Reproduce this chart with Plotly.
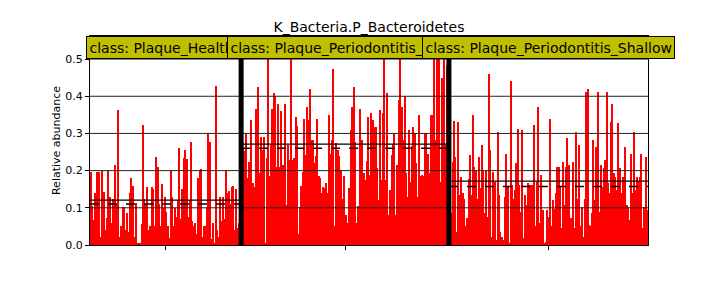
import numpy as np
import plotly.graph_objects as go

title = "K_Bacteria.P_Bacteroidetes"
class_names = ["Plaque_Healthy", "Plaque_Periodontitis_Deep", "Plaque_Periodontitis_Shallow"]

healthy = [0.197, 0.105, 0.067, 0.139, 0.197, 0.197, 0.197, 0.022, 0.2, 0.143, 0.04, 0.072, 0.2, 0.13,
           0.058, 0.125, 0.1, 0.215, 0.11, 0.363, 0.022, 0.05, 0.103, 0.103, 0.04, 0.085, 0.035, 0.139,
           0.18, 0.16, 0.022, 0.112, 0.005, 0.004, 0.005, 0.056, 0.324,
           0.125, 0.11, 0.157, 0.04, 0.05, 0.155, 0.15, 0.05, 0.237, 0.21, 0.11, 0.05, 0.165, 0.1,
           0.13, 0.09, 0.05, 0.02, 0.2, 0.13, 0.05, 0.1, 0.075, 0.12, 0.26, 0.07, 0.15, 0.233, 0.255,
           0.232, 0.075, 0.12, 0.276, 0.065, 0.05, 0.06, 0.03, 0.18, 0.2, 0.205, 0.022, 0.05, 0.05, 0.1,
           0.3, 0.276, 0.015, 0.06, 0.005, 0.427, 0.04, 0.022, 0.13, 0.065, 0.13, 0.07, 0.2, 0.14, 0.145,
           0.11, 0.157, 0.16, 0.04, 0.15, 0.045, 0.06, 0.12]

deep = [0.273, 0.26, 0.254, 0.3, 0.18, 0.224, 0.336, 0.166, 0.166, 0.157, 0.367, 0.426, 0.193, 0.29,
        0.255, 0.29, 0.004, 0.233, 0.6, 0.185, 0.27, 0.367, 0.41, 0.4, 0.21, 0.38, 0.21, 0.36, 0.215,
        0.21, 0.38, 0.107, 0.27, 0.228, 0.6, 0.228, 0.233, 0.345, 0.32, 0.03, 0.103, 0.16, 0.197, 0.34,
        0.242, 0.372, 0.336, 0.42, 0.282, 0.282, 0.22, 0.238, 0.338, 0.185, 0.18, 0.14, 0.157, 0.152,
        0.166, 0.14, 0.35, 0.246, 0.282, 0.473, 0.05, 0.273, 0.255, 0.238, 0.2, 0.125, 0.185, 0.05, 0.08,
        0.06, 0.152, 0.31, 0.372, 0.426, 0.278, 0.058, 0.105, 0.367, 0.193, 0.282, 0.193, 0.175, 0.226,
        0.345, 0.188, 0.354, 0.336, 0.318, 0.318, 0.206, 0.12, 0.363, 0.175, 0.354, 0.6, 0.175, 0.41,
        0.08, 0.148, 0.242, 0.272, 0.3, 0.08, 0.215, 0.39, 0.6, 0.372, 0.282, 0.4, 0.193, 0.13, 0.31,
        0.17, 0.265, 0.318, 0.3, 0.22, 0.13, 0.35, 0.185, 0.188, 0.185, 0.3, 0.3, 0.246, 0.193, 0.35,
        0.35, 0.6, 0.282, 0.58, 0.41, 0.6, 0.17, 0.45, 0.5, 0.27, 0.48, 0.55]

shallow = [0.107, 0.085, 0.224, 0.334, 0.237, 0.036, 0.33, 0.134, 0.184, 0.139, 0.125, 0.05, 0.072,
           0.177, 0.242, 0.134, 0.35, 0.21, 0.2, 0.125, 0.237, 0.152, 0.27, 0.2, 0.085, 0.2, 0.076,
           0.46, 0.255, 0.022, 0.197, 0.17, 0.013, 0.305, 0.134, 0.036, 0.022, 0.013, 0.13, 0.246,
           0.157, 0.005, 0.44, 0.161, 0.125, 0.148, 0.22, 0.313, 0.161, 0.09, 0.31, 0.018, 0.134,
           0.107, 0.166, 0.161, 0.107, 0.161, 0.323, 0.05, 0.17, 0.372, 0.058, 0.188, 0.094, 0.004,
           0.009,
           0.094, 0.076, 0.338, 0.05, 0.12, 0.098, 0.139, 0.21, 0.21, 0.157, 0.045, 0.224, 0.107, 0.21,
           0.287, 0.215, 0.072, 0.072, 0.224, 0.045, 0.305, 0.125, 0.27, 0.05, 0.103, 0.022, 0.125,
           0.412, 0.42, 0.054, 0.05, 0.085, 0.282, 0.12, 0.264, 0.412, 0.09, 0.215, 0.157, 0.206,
           0.228, 0.412, 0.166, 0.139, 0.33, 0.38, 0.193, 0.184, 0.148, 0.327, 0.206, 0.139, 0.184,
           0.139, 0.264, 0.107, 0.103, 0.067, 0.246, 0.139, 0.305, 0.148, 0.184, 0.17, 0.184, 0.246,
           0.045, 0.103, 0.237, 0.094]

y_ticks = [0.0, 0.1, 0.2, 0.3, 0.4, 0.5]
y_max = 0.562

groups = [healthy, deep, shallow]
all_vals = healthy + deep + shallow
N = len(all_vals)
x_idx = np.arange(N)

FONT = "DejaVu Sans"
fig = go.Figure()
fig.add_trace(go.Bar(x=x_idx, y=all_vals, width=0.72, marker=dict(color="#ff0000", line=dict(width=0)),
                     showlegend=False, hoverinfo="skip"))

shapes = []
# grid lines above bars
for t in y_ticks[1:]:
    shapes.append(dict(type="line", xref="paper", yref="y", x0=0, x1=1, y0=t, y1=t,
                       line=dict(color="#222222", width=1), layer="above"))

starts = []
s = 0
centers = []
for g in groups:
    starts.append(s)
    centers.append(s + len(g) / 2 - 0.5)
    s += len(g)

for g, st in zip(groups, starts):
    x0 = st - 0.5
    x1 = st + len(g) - 0.5
    m = float(np.mean(g))
    md = float(np.median(g))
    shapes.append(dict(type="line", xref="x", yref="y", x0=x0, x1=x1, y0=m, y1=m,
                       line=dict(color="black", width=1.3), layer="above"))
    shapes.append(dict(type="line", xref="x", yref="y", x0=x0, x1=x1, y0=md, y1=md,
                       line=dict(color="black", width=1.5, dash="dash"), layer="above"))

for st in starts[1:]:
    shapes.append(dict(type="line", xref="x", yref="paper", x0=st - 0.5, x1=st - 0.5, y0=0, y1=1,
                       line=dict(color="black", width=5), layer="above"))

annotations = []
for c, name in zip(centers, class_names):
    annotations.append(dict(x=c, y=0.944, xref="x", yref="paper", text="class: " + name,
                            showarrow=False, font=dict(family=FONT, size=14, color="black"),
                            bgcolor="#bfbf00", bordercolor="black", borderwidth=1, borderpad=2.5,
                            xanchor="center", yanchor="middle"))

fig.update_layout(
    width=720, height=288,
    margin=dict(l=90, r=72, t=36, b=43),
    paper_bgcolor="white", plot_bgcolor="white",
    font=dict(family=FONT, size=11, color="black"),
    title=dict(text=title, x=0.5125, xanchor="center", y=0.905, yanchor="middle",
               font=dict(family=FONT, size=14, color="black")),
    shapes=shapes, annotations=annotations, bargap=0,
)
fig.update_xaxes(range=[-0.5, N - 0.5], showgrid=False, zeroline=False,
                 tickmode="array", tickvals=centers, ticktext=["", "", ""],
                 ticks="outside", ticklen=4, tickcolor="black",
                 showline=True, linecolor="black", linewidth=1, mirror=True)
fig.update_yaxes(range=[0, y_max], showgrid=False, zeroline=False,
                 tickmode="array", tickvals=y_ticks, tickformat=".1f",
                 ticks="outside", ticklen=4, tickcolor="black",
                 showline=True, linecolor="black", linewidth=1, mirror=True,
                 title=dict(text="Relative abundance", font=dict(family=FONT, size=11), standoff=2))

fig.write_html("out.html")
